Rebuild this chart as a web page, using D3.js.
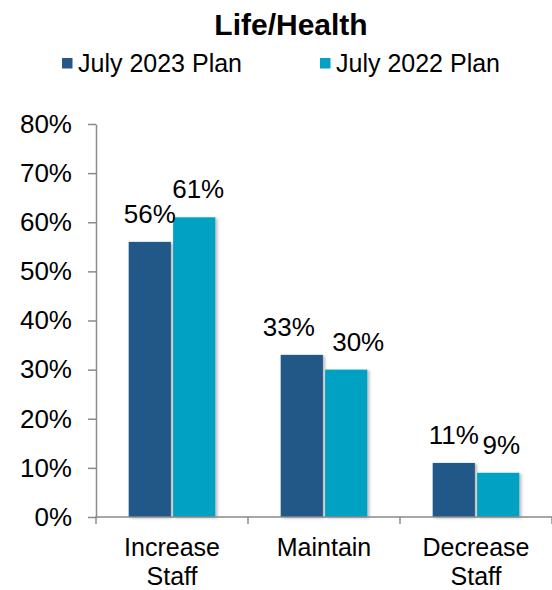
<!DOCTYPE html>
<html>
<head>
<meta charset="utf-8">
<script src="https://cdn.jsdelivr.net/npm/d3@7"></script>
<style>
  html, body { margin: 0; padding: 0; background: #fff; }
  svg { display: block; font-family: "Liberation Sans", Arial, sans-serif; }
</style>
</head>
<body>
<svg id="chart" width="552" height="590"></svg>
<script>
// Staffing plans, Life/Health segment
const categories = ["Increase Staff", "Maintain", "Decrease Staff"];
const seriesNames = ["July 2023 Plan", "July 2022 Plan"];
const plan2023 = [0.56, 0.33, 0.11];
const plan2022 = [0.61, 0.30, 0.09];
const yTicks = [0, 0.1, 0.2, 0.3, 0.4, 0.5, 0.6, 0.7, 0.8];

const colors = ["#245987", "#00A1C2"];
// horizontal nudges so neighbouring value labels don't crowd each other
const labelNudge = [[0, 4], [-13, 12], [0, 3]];

const svg = d3.select("#chart");
const W = 552, H = 590;
const m = { left: 96, right: 0, top: 124, bottom: 73 };

const x = d3.scaleBand().domain(categories).range([m.left, W - m.right]).padding(0);
const inner = d3.scaleBand().domain(seriesNames)
  .range([x.bandwidth() * 0.215, x.bandwidth() * 0.785]).paddingInner(0.05);
const y = d3.scaleLinear().domain([0, 0.8]).range([H - m.bottom, m.top]);

const rows = categories.map((c, i) => ({
  cat: c, i,
  vals: [plan2023[i], plan2022[i]]
}));

// soft shadow beneath bars
const defs = svg.append("defs");
const f = defs.append("filter").attr("id", "shadow")
  .attr("x", "-20%").attr("y", "-20%").attr("width", "150%").attr("height", "140%");
f.append("feDropShadow").attr("dx", 2).attr("dy", 1).attr("stdDeviation", 1.5)
  .attr("flood-color", "#000").attr("flood-opacity", 0.28);

// title
svg.append("text").attr("x", 291).attr("y", 35).attr("text-anchor", "middle")
  .attr("font-size", 30).attr("font-weight", "bold").attr("fill", "#000")
  .text("Life/Health");

// legend
const legendX = [62, 320];
seriesNames.forEach((s, k) => {
  const g = svg.append("g").attr("transform", `translate(${legendX[k]},0)`);
  g.append("rect").attr("x", 0).attr("y", 58).attr("width", 10.5).attr("height", 10.5)
    .attr("fill", colors[k]);
  g.append("text").attr("x", 16).attr("y", 72).attr("font-size", 25).attr("fill", "#000").text(s);
});

// bars
const groups = svg.append("g").selectAll("g").data(rows).join("g")
  .attr("transform", d => `translate(${x(d.cat)},0)`);

groups.selectAll("rect").data(d => d.vals.map((v, k) => ({ v, k, s: seriesNames[k] })))
  .join("rect")
  .attr("x", d => inner(d.s))
  .attr("width", inner.bandwidth())
  .attr("y", d => y(d.v))
  .attr("height", d => y(0) - y(d.v))
  .attr("fill", d => colors[d.k])
  .attr("filter", "url(#shadow)");

// value labels
groups.selectAll("text.val").data(d => d.vals.map((v, k) => ({ v, k, s: seriesNames[k], i: d.i })))
  .join("text").attr("class", "val")
  .attr("x", d => inner(d.s) + inner.bandwidth() / 2 + labelNudge[d.i][d.k])
  .attr("y", d => y(d.v) - 19)
  .attr("text-anchor", "middle")
  .attr("font-size", 26).attr("fill", "#000")
  .text(d => d3.format(".0%")(d.v));

// y axis
const axisColor = "#8a8a8a";
const yAxis = svg.append("g").attr("transform", `translate(${m.left},0)`)
  .call(d3.axisLeft(y).tickValues(yTicks).tickFormat(d3.format(".0%"))
    .tickSize(8).tickSizeOuter(0).tickPadding(16));
yAxis.select(".domain").attr("stroke", axisColor).attr("stroke-width", 1.5);
yAxis.selectAll(".tick line").attr("stroke", axisColor).attr("stroke-width", 1.5);
yAxis.selectAll(".tick text").attr("font-size", 26).attr("fill", "#000")
  .attr("font-family", "Liberation Sans, Arial, sans-serif");

// x axis baseline and band-edge ticks
const xAxis = svg.append("g");
xAxis.append("line").attr("x1", m.left - 1).attr("x2", W)
  .attr("y1", y(0)).attr("y2", y(0))
  .attr("stroke", axisColor).attr("stroke-width", 1.5);
const edges = categories.map(c => x(c)).concat([x(categories[categories.length - 1]) + x.bandwidth()]);
xAxis.selectAll("line.tick").data(edges).join("line").attr("class", "tick")
  .attr("x1", d => d).attr("x2", d => d)
  .attr("y1", y(0)).attr("y2", y(0) + 7)
  .attr("stroke", axisColor).attr("stroke-width", 1.5);

// category labels (wrapped on spaces)
xAxis.selectAll("text.cat").data(categories).join("text").attr("class", "cat")
  .attr("text-anchor", "middle").attr("font-size", 25).attr("fill", "#000")
  .each(function (c) {
    const words = c.split(" ");
    const t = d3.select(this);
    words.forEach((w, j) => {
      t.append("tspan").attr("x", x(c) + x.bandwidth() / 2)
        .attr("y", 556 + j * 29).text(w);
    });
  });
</script>
</body>
</html>
